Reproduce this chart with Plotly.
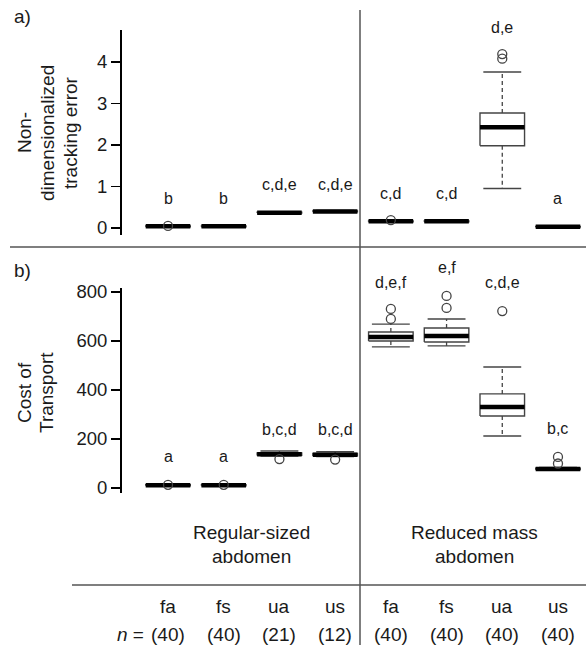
import plotly.graph_objects as go

# ---------------- data ----------------
categories = ["fa", "fs", "ua", "us", "fa", "fs", "ua", "us"]
n_counts = [40, 40, 21, 12, 40, 40, 40, 40]
group_labels = [["Regular-sized", "abdomen"], ["Reduced mass", "abdomen"]]
group_centers = [2.5, 6.5]

# panel a: non-dimensionalized tracking error
te_lo = [0.02, 0.02, 0.35, 0.38, 0.14, 0.14, 0.95, 0.01]
te_q1 = [0.03, 0.03, 0.36, 0.39, 0.15, 0.15, 1.98, 0.02]
te_med = [0.04, 0.04, 0.37, 0.40, 0.16, 0.16, 2.43, 0.03]
te_q3 = [0.05, 0.05, 0.38, 0.41, 0.17, 0.17, 2.77, 0.04]
te_hi = [0.06, 0.06, 0.39, 0.42, 0.18, 0.18, 3.76, 0.05]
te_out = [[0.05], [], [], [], [0.19], [], [4.19, 4.08], []]
te_letters = ["b", "b", "c,d,e", "c,d,e", "c,d", "c,d", "d,e", "a"]
te_letter_y = [0.72, 0.72, 1.04, 1.04, 0.84, 0.84, 4.84, 0.72]
te_ticks = [0, 1, 2, 3, 4]

# panel b: cost of transport
cot_lo = [7, 7, 130, 128, 576, 580, 212, 73]
cot_q1 = [9, 9, 133, 131, 600, 596, 294, 75]
cot_med = [11, 11, 138, 136, 616, 620, 331, 78]
cot_q3 = [13, 13, 143, 141, 637, 653, 384, 81]
cot_hi = [15, 15, 151, 148, 669, 690, 494, 84]
cot_out = [[13], [13], [118], [116], [731, 690], [784, 735], [722], [127, 100]]
cot_letters = ["a", "a", "b,c,d", "b,c,d", "d,e,f", "e,f", "c,d,e", "b,c"]
cot_letter_y = [127, 127, 237, 237, 837, 898, 837, 241]
cot_ticks = [0, 200, 400, 600, 800]

# ---------------- figure ----------------
W, H = 586, 652
BOX_W = 0.8
CAP_W = 0.68
LINE_C = "#444444"
TXT_C = "#1a1a1a"
FONT = "Liberation Sans, Arial, sans-serif"

YA_DOMAIN = [1 - 235 / H, 1 - 30 / H]
YA_RANGE = [-0.169, 4.771]
YB_DOMAIN = [1 - 493 / H, 1 - 288 / H]
YB_RANGE = [-20.4, 816.3]

fig = go.Figure()


def add_boxes(lo, q1, med, q3, hi, out, yaxis):
    bx, by, wx, wy, cx, cy, mx, my, ox, oy = [], [], [], [], [], [], [], [], [], []
    for i in range(len(med)):
        x = i + 1
        h = BOX_W / 2
        c = CAP_W / 2
        bx += [x - h, x + h, x + h, x - h, x - h, None]
        by += [q1[i], q1[i], q3[i], q3[i], q1[i], None]
        wx += [x, x, None, x, x, None]
        wy += [q3[i], hi[i], None, q1[i], lo[i], None]
        cx += [x - c, x + c, None, x - c, x + c, None]
        cy += [hi[i], hi[i], None, lo[i], lo[i], None]
        mx += [x - h, x + h, None]
        my += [med[i], med[i], None]
        for v in out[i]:
            ox.append(x)
            oy.append(v)
    common = dict(xaxis="x", yaxis=yaxis, showlegend=False, hoverinfo="skip")
    fig.add_trace(go.Scatter(x=wx, y=wy, mode="lines",
                             line=dict(color=LINE_C, width=1.3, dash="4px,3px"), **common))
    fig.add_trace(go.Scatter(x=cx, y=cy, mode="lines",
                             line=dict(color=LINE_C, width=1.4), **common))
    fig.add_trace(go.Scatter(x=bx, y=by, mode="lines", fill="toself", fillcolor="white",
                             line=dict(color=LINE_C, width=1.4), **common))
    fig.add_trace(go.Scatter(x=mx, y=my, mode="lines",
                             line=dict(color="black", width=4.5), **common))
    fig.add_trace(go.Scatter(x=ox, y=oy, mode="markers",
                             marker=dict(symbol="circle-open", size=9, color=LINE_C,
                                         line=dict(width=1.3, color=LINE_C)), **common))


add_boxes(te_lo, te_q1, te_med, te_q3, te_hi, te_out, "y")
add_boxes(cot_lo, cot_q1, cot_med, cot_q3, cot_hi, cot_out, "y2")


def px_x(p):
    return p / W


def px_y(p):
    return 1 - p / H


def val_to_paper(v, domain, rng):
    # letters may sit above the axis range, so place them on the paper
    return domain[0] + (v - rng[0]) / (rng[1] - rng[0]) * (domain[1] - domain[0])


def ann(x, y, text, xref="paper", yref="paper", size=19, angle=0, xanchor="center"):
    return dict(x=x, y=y, xref=xref, yref=yref, text=text, showarrow=False,
                xanchor=xanchor, yanchor="middle", textangle=angle,
                font=dict(size=size, color=TXT_C, family=FONT))


annotations = []
for i, (t, y) in enumerate(zip(te_letters, te_letter_y)):
    annotations.append(ann(i + 1, val_to_paper(y, YA_DOMAIN, YA_RANGE), t, "x", "paper", 16))
for i, (t, y) in enumerate(zip(cot_letters, cot_letter_y)):
    annotations.append(ann(i + 1, val_to_paper(y, YB_DOMAIN, YB_RANGE), t, "x", "paper", 16))

# panel labels
annotations.append(ann(px_x(22), px_y(17), "a)"))
annotations.append(ann(px_x(22), px_y(271), "b)"))

# y titles
for txt, xp in [("Non-", 24), ("dimensionalized", 47), ("tracking error", 70)]:
    annotations.append(ann(px_x(xp), px_y(133), txt, angle=-90))
for txt, xp in [("Cost of", 24), ("Transport", 46)]:
    annotations.append(ann(px_x(xp), px_y(393), txt, angle=-90))

# group labels
for (l1, l2), gx in zip(group_labels, group_centers):
    annotations.append(ann(gx, px_y(532), l1, "x", "paper"))
    annotations.append(ann(gx, px_y(556), l2, "x", "paper"))

# table rows
for i, (c, n) in enumerate(zip(categories, n_counts)):
    annotations.append(ann(i + 1, px_y(606), c, "x", "paper"))
    annotations.append(ann(i + 1, px_y(634), f"({n})", "x", "paper"))
annotations.append(ann(px_x(146), px_y(634), "<i>n</i> =", xanchor="right"))

shapes = [
    dict(type="line", xref="paper", yref="paper", x0=px_x(360), x1=px_x(360),
         y0=px_y(10), y1=px_y(645), line=dict(color="#555555", width=1.5)),
    dict(type="line", xref="paper", yref="paper", x0=px_x(10), x1=1,
         y0=px_y(247), y1=px_y(247), line=dict(color="#555555", width=1.5)),
    dict(type="line", xref="paper", yref="paper", x0=px_x(72), x1=1,
         y0=px_y(585), y1=px_y(585), line=dict(color="#555555", width=1.5)),
]

yax_common = dict(showline=True, linecolor="black", linewidth=2, ticks="outside",
                  ticklen=9, tickwidth=1.5, tickcolor="black", showgrid=False,
                  zeroline=False, anchor="x", automargin=False,
                  tickfont=dict(size=18.5, color=TXT_C, family=FONT))

fig.update_layout(
    width=W, height=H,
    margin=dict(l=0, r=0, t=0, b=0, autoexpand=False),
    paper_bgcolor="white", plot_bgcolor="white",
    xaxis=dict(domain=[122 / W, 1], range=[0.174, 8.503], visible=False,
               fixedrange=True, automargin=False),
    yaxis=dict(domain=YA_DOMAIN, range=YA_RANGE, tickvals=te_ticks, **yax_common),
    yaxis2=dict(domain=YB_DOMAIN, range=YB_RANGE, tickvals=cot_ticks, **yax_common),
    annotations=annotations,
    shapes=shapes,
    font=dict(family=FONT, color=TXT_C),
)

fig.write_html("out.html", config={"displayModeBar": False, "staticPlot": True},
               post_script="document.body.style.margin='0';")
